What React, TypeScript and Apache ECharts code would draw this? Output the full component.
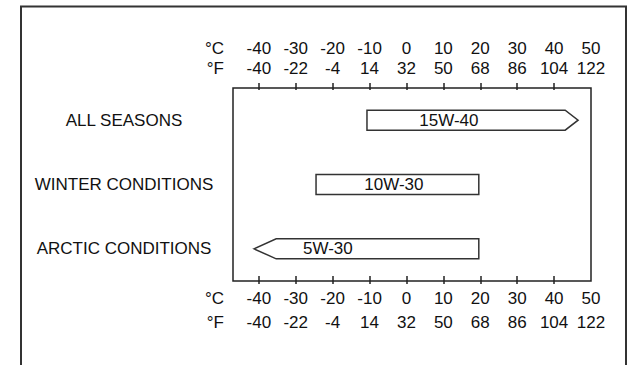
import React, { useEffect, useRef } from "react";
import * as echarts from "echarts";

const categories = ["ALL SEASONS", "WINTER CONDITIONS", "ARCTIC CONDITIONS"];
const grades = ["15W-40", "10W-30", "5W-30"];
const rangeStartC = [-10.7, -24.5, -35.3];
const rangeEndC = [43, 19.6, 19.6];
const arrowDir = ["right", "none", "left"];
const arrowTipC = [46.5, 19.6, -41.3];
const labelCenterC = [11.5, -3.4, -21.3];
const celsiusTicks = [-40, -30, -20, -10, 0, 10, 20, 30, 40, 50];
const fahrenheitTicks = [-40, -22, -4, 14, 32, 50, 68, 86, 104, 122];
const axisMinC = -47;
const axisMaxC = 50;

const FONT = "Liberation Sans, Arial, sans-serif";
const INK = "#111";
const FS = 17;

function labelText(v: number) {
  const i = celsiusTicks.indexOf(Math.round(v));
  if (i < 0) return "";
  return `${celsiusTicks[i]}\n${fahrenheitTicks[i]}`;
}

export default function App() {
  const ref = useRef<HTMLDivElement>(null);
  useEffect(() => {
    if (!ref.current) return;
    const chart = echarts.init(ref.current, null, { renderer: "svg" });
    const tickVals = celsiusTicks.filter((c) => c < axisMaxC);
    const baseAxis = {
      type: "value",
      min: axisMinC,
      max: axisMaxC,
      splitLine: { show: false },
      axisLine: { show: false },
    };
    const data = categories.map((_, i) => [
      rangeStartC[i],
      rangeEndC[i],
      i,
      arrowTipC[i],
      labelCenterC[i],
    ]);
    chart.setOption({
      animation: false,
      grid: {
        left: 233,
        right: 42,
        top: 88,
        bottom: 84,
        show: true,
        borderColor: "#222",
        borderWidth: 1.5,
      },
      xAxis: [
        {
          ...baseAxis,
          position: "top",
          axisTick: {
            show: true,
            customValues: tickVals,
            inside: false,
            length: 5,
            lineStyle: { color: "#222", width: 1.5 },
          },
          axisLabel: {
            customValues: celsiusTicks,
            formatter: (v: number) => labelText(v),
            margin: 10,
            lineHeight: 20,
            fontSize: FS,
            fontFamily: FONT,
            color: INK,
          },
        },
        {
          ...baseAxis,
          position: "top",
          axisTick: {
            show: true,
            customValues: tickVals,
            inside: true,
            length: 2,
            lineStyle: { color: "#222", width: 1.5 },
          },
          axisLabel: { show: false },
        },
        {
          ...baseAxis,
          position: "bottom",
          axisTick: {
            show: true,
            customValues: tickVals,
            inside: false,
            length: 3,
            lineStyle: { color: "#222", width: 1.5 },
          },
          axisLabel: {
            customValues: celsiusTicks,
            formatter: (v: number) => labelText(v),
            margin: 5,
            lineHeight: 24,
            fontSize: FS,
            fontFamily: FONT,
            color: INK,
          },
        },
        {
          ...baseAxis,
          position: "bottom",
          axisTick: {
            show: true,
            customValues: tickVals,
            inside: true,
            length: 5,
            lineStyle: { color: "#222", width: 1.5 },
          },
          axisLabel: { show: false },
        },
      ],
      yAxis: {
        type: "category",
        data: categories,
        inverse: true,
        axisLine: { show: false },
        axisTick: { show: false },
        splitLine: { show: false },
        axisLabel: {
          margin: 109,
          align: "center",
          fontSize: FS,
          fontFamily: FONT,
          color: INK,
        },
      },
      graphic: [
        {
          type: "polyline",
          shape: { points: [[21, 365], [21, 6.5], [626, 6.5], [626, 365]] },
          style: { stroke: "#333", lineWidth: 2, fill: "none" },
          silent: true,
        },
        ...[
          ["°C", 48],
          ["°F", 68],
          ["°C", 298],
          ["°F", 322],
        ].map(([t, y]) => ({
          type: "text",
          x: 224,
          y: y as number,
          style: {
            text: t as string,
            align: "right",
            verticalAlign: "middle",
            font: `${FS}px ${FONT}`,
            fill: INK,
          },
          silent: true,
        })),
      ],
      series: [
        {
          type: "custom",
          xAxisIndex: 0,
          clip: false,
          data,
          renderItem: (params: any, api: any) => {
            const i = params.dataIndex;
            const s = api.value(0);
            const e = api.value(1);
            const idx = api.value(2);
            const tip = api.value(3);
            const lab = api.value(4);
            const [x0, yc] = api.coord([s, idx]);
            const [x1] = api.coord([e, idx]);
            const [xt] = api.coord([tip, idx]);
            const [xl] = api.coord([lab, idx]);
            const h = 20;
            const top = yc - h / 2;
            const bot = yc + h / 2;
            let points: number[][];
            if (arrowDir[i] === "right") {
              points = [[x0, top], [x1, top], [xt, yc], [x1, bot], [x0, bot]];
            } else if (arrowDir[i] === "left") {
              points = [[xt, yc], [x0, top], [x1, top], [x1, bot], [x0, bot]];
            } else {
              points = [[x0, top], [x1, top], [x1, bot], [x0, bot]];
            }
            return {
              type: "group",
              children: [
                {
                  type: "polygon",
                  shape: { points },
                  style: { fill: "#fff", stroke: "#333", lineWidth: 1.5 },
                },
                {
                  type: "text",
                  x: xl,
                  y: yc,
                  style: {
                    text: grades[i],
                    align: "center",
                    verticalAlign: "middle",
                    font: `${FS}px ${FONT}`,
                    fill: INK,
                  },
                },
              ],
            };
          },
        },
      ],
    });
    return () => chart.dispose();
  }, []);
  return (
    <div
      ref={ref}
      style={{ position: "fixed", left: 0, top: 0, width: 633, height: 365, background: "#fff" }}
    />
  );
}
